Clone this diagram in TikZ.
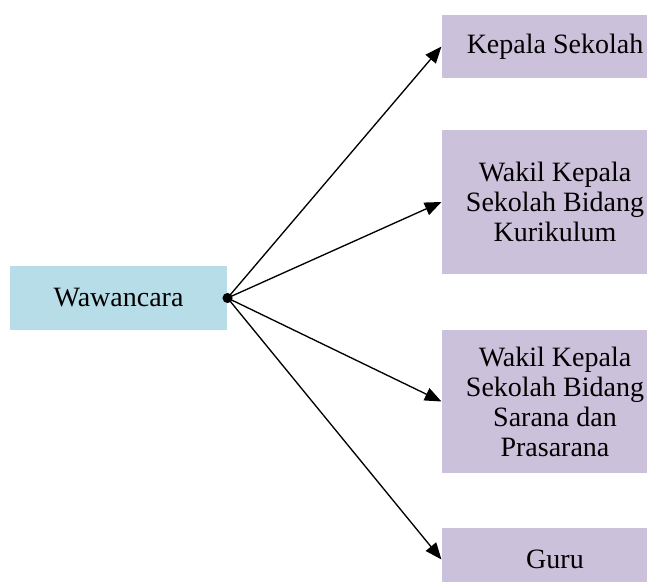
\documentclass[tikz,border=0pt]{standalone}
\usepackage{fontspec}
\setmainfont{Liberation Serif}
\usetikzlibrary{arrows.meta}
\definecolor{biru}{RGB}{183,221,232}
\definecolor{ungu}{RGB}{204,193,218}
\begin{document}
\begin{tikzpicture}[x=0.75pt, y=-0.75pt, thick,
  kotak/.style={fill=ungu, align=center, minimum width=169.5pt, inner sep=0pt,
    font=\fontsize{21}{22.5}\selectfont},
  panah/.style={-{Triangle[length=12.5pt,width=10pt]}, line width=1pt}]
\clip (0,0) rectangle (647,582);
\node[fill=biru, minimum width=162.75pt, minimum height=48pt, font=\fontsize{21}{22.5}\selectfont] (P_0_0) at (118.5,298) {Wawancara};
\node[kotak, minimum height=47.25pt] (P_1_0) at (555,46.5) {Kepala Sekolah};
\node[kotak, minimum height=108pt] (P_1_1) at (555,202) {Wakil Kepala\\Sekolah Bidang\\Kurikulum};
\node[kotak, minimum height=107.25pt] (P_1_2) at (555,401.5) {Wakil Kepala\\Sekolah Bidang\\Sarana dan\\Prasarana};
\node[kotak, minimum height=47.25pt] (P_1_3) at (555,559.5) {Guru};
\coordinate (T) at (P_0_0.east);
\draw[panah] (T) -- (P_1_0.west);
\draw[panah] (T) -- (P_1_1.west);
\draw[panah] (T) -- (P_1_2.west);
\draw[panah] (T) -- (P_1_3.west);
\fill (T) circle (3.8pt);
\end{tikzpicture}
\end{document}
